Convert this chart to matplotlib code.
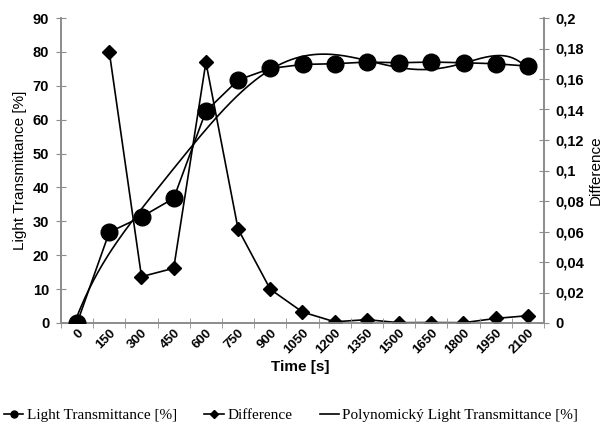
import numpy as np
import matplotlib.pyplot as plt
from matplotlib.lines import Line2D

plt.rcParams['font.family'] = ['Liberation Sans', 'DejaVu Sans']

# data
time_labels = ['0', '150', '300', '450', '600', '750', '900', '1050', '1200',
               '1350', '1500', '1650', '1800', '1950', '2100']
transmittance = [0, 26.8, 31.3, 36.8, 62.5, 71.7, 75.1, 76.3, 76.5,
                 77.0, 76.8, 77.0, 76.8, 76.5, 75.8]
# no difference value at t = 0
difference = [np.nan, 0.1777, 0.0304, 0.0359, 0.171, 0.0616, 0.0221, 0.0072, 0.0008,
              0.0022, 0.0002, 0.0003, 0.0002, 0.0030, 0.0048]

left_ticks = [0, 10, 20, 30, 40, 50, 60, 70, 80, 90]
right_ticks = [0, 0.02, 0.04, 0.06, 0.08, 0.1, 0.12, 0.14, 0.16, 0.18, 0.2]
right_labels = ['0', '0,02', '0,04', '0,06', '0,08', '0,1', '0,12', '0,14',
                '0,16', '0,18', '0,2']

x = np.arange(len(time_labels))

# polynomial trendline (6th order, like the spreadsheet one)
coef = np.polyfit(x + 1, transmittance, 6)
xs = np.linspace(0, len(x) - 1, 300)
trend = np.polyval(coef, xs + 1)

grey = '#8c8c8c'

fig = plt.figure(figsize=(6.08, 4.34), dpi=100)
ax1 = fig.add_axes([61 / 608, 1 - 323 / 434, (544 - 61) / 608, (323 - 18) / 434])
ax2 = ax1.twinx()

ax1.plot(xs, trend, '-', color='black', linewidth=1.2, zorder=2)
ax1.plot(x, transmittance, '-o', color='black', linewidth=1.2, markersize=12, zorder=3)
ax2.plot(x, difference, '-D', color='black', linewidth=1.2, markersize=7.5, zorder=3)

ax1.set_xlim(-0.5, len(x) - 0.5)
ax1.set_ylim(0, 90)
ax2.set_ylim(0, 0.2)

ax1.set_xticks(x)
ax1.set_xticklabels(time_labels, rotation=45, ha='right', va='top',
                    rotation_mode='anchor', fontweight='bold', fontsize=9.5)
ax1.set_xticks(np.arange(-0.5, len(x), 1), minor=True)
ax1.tick_params(axis='x', which='major', length=0, pad=3)
ax1.tick_params(axis='x', which='minor', length=7, direction='inout', color=grey)

ax1.set_yticks(left_ticks)
ax1.set_yticklabels([str(v) for v in left_ticks], fontweight='bold', fontsize=10.5)
ax1.tick_params(axis='y', length=7, direction='inout', color=grey, pad=5)

ax2.set_yticks(right_ticks)
ax2.set_yticklabels(right_labels, fontweight='bold', fontsize=10.5)
ax2.tick_params(axis='y', length=7, direction='inout', color=grey, pad=5)

for ax in (ax1, ax2):
    ax.spines['top'].set_visible(False)
    for s in ('left', 'right', 'bottom'):
        ax.spines[s].set_color(grey)
        ax.spines[s].set_linewidth(1.2)
ax1.set_zorder(ax2.get_zorder() + 1)
ax1.patch.set_visible(False)

ax1.set_ylabel('Light Transmittance [%]', fontsize=11, labelpad=4)
ax2.set_ylabel('Difference', fontsize=11, labelpad=3)
fig.text(300 / 608, 1 - 367 / 434, 'Time [s]', ha='center', va='center',
         fontsize=11, fontweight='bold')

handles = [
    Line2D([], [], color='black', marker='o', markersize=5, linewidth=1.2),
    Line2D([], [], color='black', marker='D', markersize=4, linewidth=1.2),
    Line2D([], [], color='black', linewidth=1.2),
]
fig.legend(handles, ['Light Transmittance [%]', 'Difference',
                     'Polynomický Light Transmittance [%]'],
           loc='center', bbox_to_anchor=(291 / 608, 1 - 415 / 434), ncol=3,
           frameon=False, handlelength=1.3, handletextpad=0.2, columnspacing=1.8,
           borderpad=0, prop={'family': 'Liberation Serif', 'size': 11})

fig.savefig('out.png', dpi=100)
